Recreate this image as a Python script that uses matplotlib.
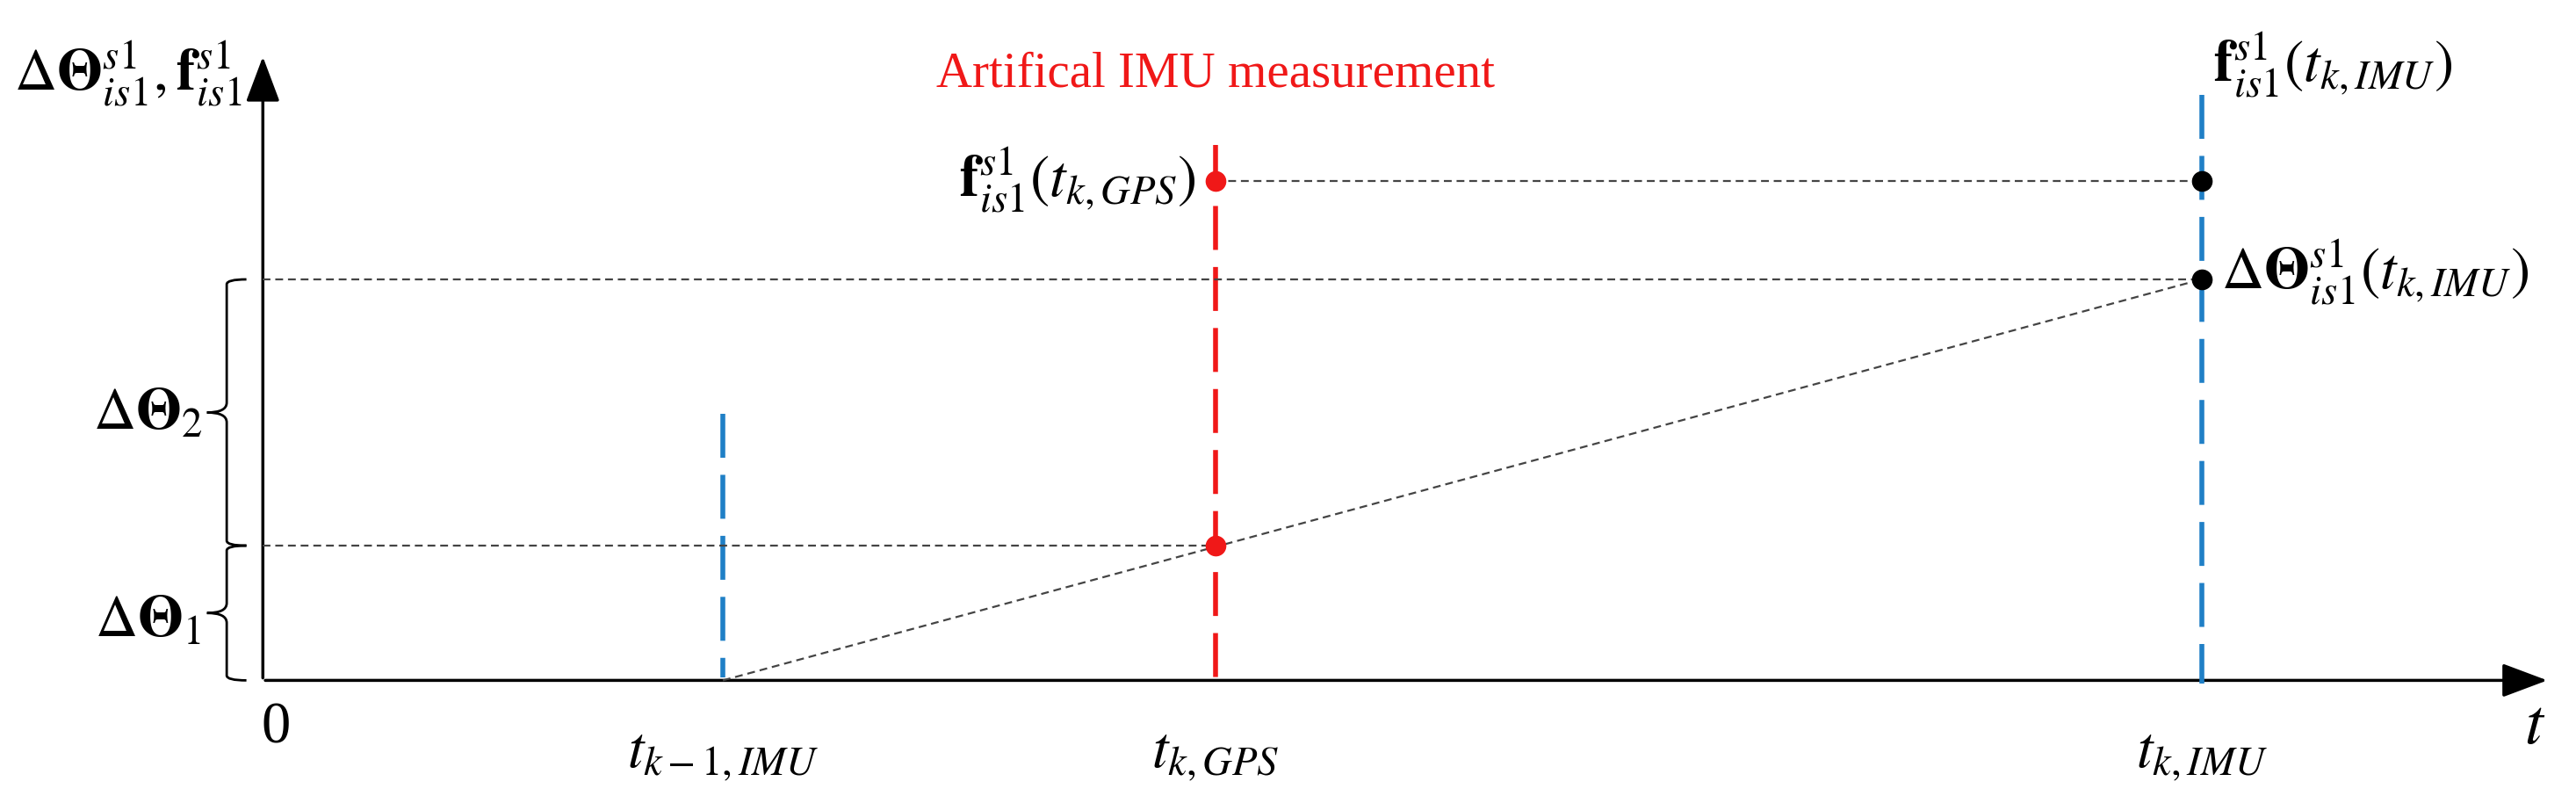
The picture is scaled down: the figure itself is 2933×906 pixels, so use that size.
import matplotlib.pyplot as plt
from matplotlib.path import Path
from matplotlib.patches import PathPatch, FancyArrowPatch

plt.rcParams["mathtext.fontset"] = "stix"
plt.rcParams["font.family"] = ["Liberation Serif", "DejaVu Serif"]

# layout in reference display units (x right, y down)
origin = (160, 414)
t_prev, t_gps, t_imu = 440, 740, 1340
y_theta_gps, y_theta_imu, y_f = 332, 170, 110
tick_positions = [160, t_prev, t_gps, t_imu]
tick_labels = ["0", r"$t_{k-1,IMU}$", r"$t_{k,GPS}$", r"$t_{k,IMU}$"]

BLUE = "#1f7fc6"
RED = "#f01818"
GRAY = "#444444"

W, H = 1568, 906 / (2933 / 1568)
fig = plt.figure(figsize=(29.33, 9.06), dpi=100)
ax = fig.add_axes([0, 0, 1, 1])
ax.set_xlim(0, W)
ax.set_ylim(H, 0)
ax.axis("off")

# axes arrows
ax.add_patch(FancyArrowPatch((origin[0], origin[1]), (1552, origin[1]),
             arrowstyle="-|>,head_length=1.6,head_width=0.6", mutation_scale=20, lw=2.5, color="black"))
ax.add_patch(FancyArrowPatch((origin[0], origin[1]), (origin[0], 33),
             arrowstyle="-|>,head_length=1.6,head_width=0.6", mutation_scale=20, lw=2.5, color="black"))

# vertical marker lines
dash = dict(lw=4, dashes=(9, 3.5))
ax.plot([t_prev, t_prev], [252, 412], color=BLUE, **dash)
ax.plot([t_gps, t_gps], [88, 412], color=RED, **dash)
ax.plot([t_imu, t_imu], [58, 416], color=BLUE, **dash)

# thin dashed guides
thin = dict(color=GRAY, lw=1.6, dashes=(4, 2.5))
ax.plot([origin[0], t_imu], [y_theta_imu, y_theta_imu], **thin)
ax.plot([origin[0], t_gps], [y_theta_gps, y_theta_gps], **thin)
ax.plot([t_gps, t_imu], [y_f, y_f], **thin)
ax.plot([t_prev, t_imu], [origin[1], y_theta_imu], **thin)

# points
ax.plot([t_gps, t_gps], [y_f, y_theta_gps], "o", color=RED, ms=16, zorder=5)
ax.plot([t_imu, t_imu], [y_f, y_theta_imu], "o", color="black", ms=16, zorder=5)


def brace(y0, y1, x=150, w=12):
    ym = (y0 + y1) / 2
    verts = [(x, y0), (x - w, y0), (x - w, y0 + 3), (x - w, ym - 6),
             (x - w, ym), (x - 2 * w, ym),
             (x - w, ym), (x - w, ym + 6), (x - w, y1 - 3),
             (x - w, y1), (x, y1)]
    codes = [Path.MOVETO, Path.CURVE3, Path.CURVE3, Path.LINETO,
             Path.CURVE3, Path.CURVE3, Path.CURVE3, Path.CURVE3, Path.LINETO,
             Path.CURVE3, Path.CURVE3]
    ax.add_patch(PathPatch(Path(verts, codes), fill=False, lw=2, color="black"))


brace(y_theta_imu, y_theta_gps)
brace(y_theta_gps, origin[1])

fs = 48
ax.text(90, 252, r"$\Delta\mathbf{\Theta}_2$", fontsize=fs, ha="center", va="center")
ax.text(90, 378, r"$\Delta\mathbf{\Theta}_1$", fontsize=fs, ha="center", va="center")
ax.text(78, 45, r"$\Delta\mathbf{\Theta}_{is1}^{s1},\mathbf{f}_{is1}^{s1}$", fontsize=fs,
        ha="center", va="center")
ax.text(740, 45, "Artifical IMU measurement", color=RED, fontsize=41, ha="center", va="center")
ax.text(1420, 40, r"$\mathbf{f}_{is1}^{s1}\left(t_{k,IMU}\right)$", fontsize=fs, ha="center", va="center")
ax.text(728, 110, r"$\mathbf{f}_{is1}^{s1}\left(t_{k,GPS}\right)$", fontsize=fs, ha="right", va="center")
ax.text(1352, 166, r"$\Delta\mathbf{\Theta}_{is1}^{s1}\left(t_{k,IMU}\right)$", fontsize=fs,
        ha="left", va="center")

for x, lab in zip(tick_positions, tick_labels):
    ax.text(x + (8 if lab == "0" else 0), 443 if lab == "0" else 460, lab,
            fontsize=fs, ha="center", va="center")
ax.text(1543, 443, r"$t$", fontsize=54, ha="center", va="center")

fig.savefig("out.png", dpi=100)
